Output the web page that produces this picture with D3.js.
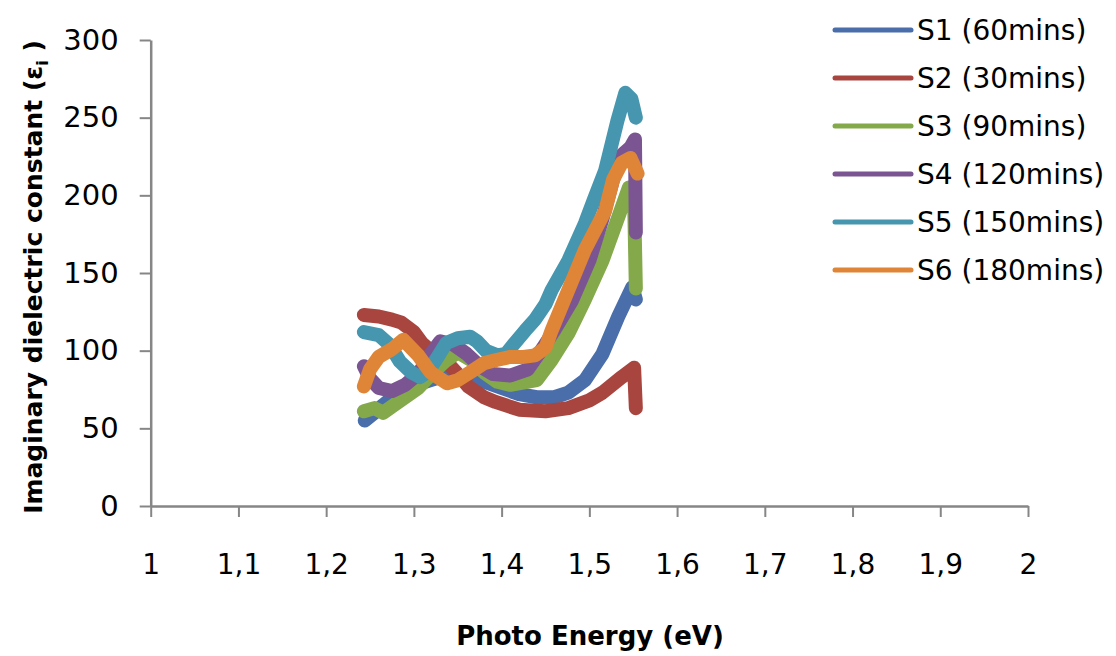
<!DOCTYPE html>
<html>
<head>
<meta charset="utf-8">
<script src="https://cdn.jsdelivr.net/npm/d3@7"></script>
<style>
  body { margin: 0; background: #fff; }
  text { font-family: "DejaVu Sans", sans-serif; fill: #000; }
</style>
</head>
<body>
<div id="chart-area"></div>
<script>
// data: [photon energy (eV), imaginary dielectric constant]
const s1 = [[1.244,55],[1.255,60],[1.265,65],[1.28,72],[1.30,77],[1.313,80],[1.33,83],[1.345,83],[1.365,82],[1.38,80],[1.40,76],[1.42,72],[1.44,70],[1.46,70],[1.476,73],[1.495,81],[1.515,98],[1.533,122],[1.549,141],[1.553,133]]
const s2 = [[1.243,123],[1.26,122],[1.275,120],[1.286,118],[1.30,112],[1.309,105],[1.325,97],[1.34,91],[1.35,85],[1.362,77],[1.38,70],[1.393,67],[1.42,62],[1.45,61],[1.476,63],[1.50,68],[1.515,73],[1.537,83],[1.551,89],[1.553,63]]
const s3 = [[1.243,61],[1.255,63],[1.265,60],[1.275,64],[1.29,70],[1.305,76],[1.32,85],[1.335,93],[1.35,99],[1.365,94],[1.38,86],[1.395,80],[1.41,78],[1.44,81],[1.457,94],[1.476,111],[1.495,133],[1.515,158],[1.533,186],[1.545,205],[1.551,198],[1.553,140]]
const s4 = [[1.243,90],[1.25,82],[1.26,76],[1.275,74],[1.29,78],[1.305,85],[1.318,97],[1.33,106],[1.345,104],[1.36,98],[1.375,90],[1.39,85],[1.41,84],[1.43,88],[1.445,100],[1.46,113],[1.48,132],[1.50,158],[1.515,185],[1.527,210],[1.537,226],[1.547,231],[1.552,236],[1.553,176]]
const s5 = [[1.243,112],[1.26,110],[1.272,104],[1.284,93],[1.297,86],[1.307,83],[1.317,87],[1.326,95],[1.337,105],[1.35,108],[1.364,109],[1.372,106],[1.382,100],[1.395,97],[1.405,98],[1.415,105],[1.427,113],[1.438,120],[1.45,130],[1.457,139],[1.476,158],[1.495,182],[1.505,197],[1.518,216],[1.532,248],[1.541,266],[1.548,262],[1.553,250]]
const s6 = [[1.243,77],[1.25,88],[1.26,96],[1.275,101],[1.288,107],[1.305,97],[1.319,86],[1.338,79],[1.35,81],[1.364,86],[1.38,92],[1.394,94],[1.41,96],[1.425,96],[1.438,97],[1.45,102],[1.457,113],[1.476,139],[1.495,165],[1.518,190],[1.527,210],[1.537,221],[1.547,224],[1.555,214]]

const seriesNames = ["S1 (60mins)", "S2 (30mins)", "S3 (90mins)", "S4 (120mins)", "S5 (150mins)", "S6 (180mins)"]
const seriesColors = ["#4a6eaa", "#a8453f", "#84a94b", "#7a5592", "#4596ae", "#df8537"]
const xTicks = [1, 1.1, 1.2, 1.3, 1.4, 1.5, 1.6, 1.7, 1.8, 1.9, 2]
const xTickLabels = ["1", "1,1", "1,2", "1,3", "1,4", "1,5", "1,6", "1,7", "1,8", "1,9", "2"]
const yTicks = [0, 50, 100, 150, 200, 250, 300]

const SVG_WIDTH = 1116
const SVG_HEIGHT = 656
const AXIS_COLOR = "#868686"

const svg = d3.select("#chart-area").append("svg")
  .attr("width", SVG_WIDTH)
  .attr("height", SVG_HEIGHT)

const x = d3.scaleLinear().domain([1, 2]).range([150.7, 1028])
const y = d3.scaleLinear().domain([0, 300]).range([506, 40])

// axes
const yAxis = svg.append("g")
  .attr("transform", `translate(${x(1)}, 0)`)
  .call(d3.axisLeft(y).tickValues(yTicks).tickSize(11).tickSizeOuter(0).tickPadding(21))
yAxis.selectAll("text").attr("font-size", "29px").attr("font-family", "DejaVu Sans")

const xAxis = svg.append("g")
  .attr("transform", `translate(0, ${y(0)})`)
  .call(d3.axisBottom(x).tickValues(xTicks).tickSize(11).tickSizeOuter(0).tickPadding(37)
    .tickFormat((d, i) => xTickLabels[i]))
xAxis.selectAll("text").attr("font-size", "28px").attr("font-family", "DejaVu Sans")

svg.selectAll(".domain").attr("stroke", AXIS_COLOR).attr("stroke-width", 2.5)
svg.selectAll(".tick line").attr("stroke", AXIS_COLOR).attr("stroke-width", 2)

// axis titles
svg.append("text")
  .attr("x", 590)
  .attr("y", 645)
  .attr("font-size", "26px")
  .attr("font-weight", "bold")
  .attr("text-anchor", "middle")
  .text("Photo Energy (eV)")

const yTitle = svg.append("text")
  .attr("transform", "translate(42, 277) rotate(-90)")
  .attr("font-size", "25px")
  .attr("font-weight", "bold")
  .attr("text-anchor", "middle")
yTitle.append("tspan").text("Imaginary dielectric constant (ε")
yTitle.append("tspan").attr("font-size", "16px").attr("dy", 6).text("i")
yTitle.append("tspan").attr("dy", -6).text(" )")

// series
const line = d3.line()
  .x(d => x(d[0]))
  .y(d => y(d[1]))

const allSeries = [s1, s2, s3, s4, s5, s6]
svg.append("g").selectAll("path")
  .data(allSeries)
  .enter().append("path")
  .attr("d", line)
  .attr("fill", "none")
  .attr("stroke", (d, i) => seriesColors[i])
  .attr("stroke-width", 14)
  .attr("stroke-linecap", "round")
  .attr("stroke-linejoin", "round")

// legend
const legend = svg.append("g").selectAll("g")
  .data(seriesNames)
  .enter().append("g")
  .attr("transform", (d, i) => `translate(835, ${30 + i * 48})`)

legend.append("line")
  .attr("x1", 0).attr("x2", 76)
  .attr("stroke", (d, i) => seriesColors[i])
  .attr("stroke-width", 5)
  .attr("stroke-linecap", "round")

legend.append("text")
  .attr("x", 82)
  .attr("y", 10)
  .attr("font-size", "28px")
  .text(d => d)
</script>
</body>
</html>
